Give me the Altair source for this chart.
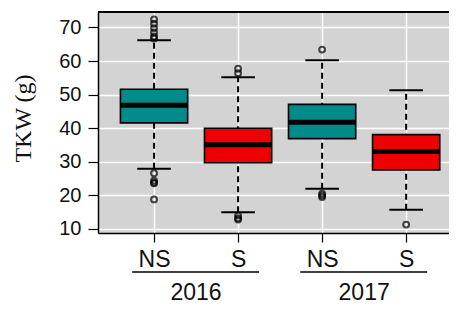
import altair as alt
import pandas as pd

# ---- data ----
groups = ["NS", "S", "NS", "S"]
years = ["2016", "2016", "2017", "2017"]
positions = [1, 2, 3, 4]
q1 = [41.6, 29.7, 36.9, 27.6]
median = [46.8, 35.1, 41.8, 33.1]
q3 = [51.6, 40.0, 47.1, 38.1]
whisker_low = [27.9, 15.0, 22.0, 15.7]
whisker_high = [66.2, 55.2, 60.2, 51.3]
outliers = [
    [72.4, 71.1, 69.8, 68.5, 67.3, 66.7, 26.6, 24.4, 23.8, 23.6, 18.8],
    [57.7, 56.4, 14.0, 13.2, 12.8],
    [63.4, 20.5, 20.0, 19.5],
    [11.3],
]
group_colors = {"NS": "#008b8b", "S": "#ee0000"}
year_labels = ["2016", "2017"]
year_pos = [1.5, 3.5]
underline_start = [0.74, 2.74]
underline_end = [2.25, 4.25]
y_ticks = [10, 20, 30, 40, 50, 60, 70]

boxes = pd.DataFrame({
    "group": groups, "year": years, "pos": positions,
    "q1": q1, "median": median, "q3": q3,
    "lo": whisker_low, "hi": whisker_high,
})
out_rows = []
for p, g, vals in zip(positions, groups, outliers):
    for v in vals:
        out_rows.append({"pos": p, "group": g, "value": v})
outs = pd.DataFrame(out_rows)
yrs = pd.DataFrame({"label": year_labels, "pos": year_pos,
                    "start": underline_start, "end": underline_end})

xscale = alt.Scale(domain=[0.333, 4.51], nice=False, zero=False)
yscale = alt.Scale(domain=[8.8, 74.6], nice=False, zero=False)
cscale = alt.Scale(domain=list(group_colors.keys()), range=list(group_colors.values()))

FONT = "Liberation Sans"

xaxis = alt.Axis(
    values=positions, title=None, grid=True, gridColor="white", gridWidth=1.5,
    labelExpr="datum.value == 1 || datum.value == 3 ? 'NS' : 'S'",
    labelFont=FONT, labelFontSize=23, labelColor="#111", labelPadding=6,
    tickSize=9, tickColor="black", tickWidth=1.2,
    domainColor="black", domainWidth=1.5,
)
yaxis = alt.Axis(
    values=y_ticks, title="TKW (g)", grid=True, gridColor="white", gridWidth=1.5,
    labelFont=FONT, labelFontSize=20, labelColor="#111", labelPadding=7,
    tickSize=10, tickColor="black", tickWidth=1.2,
    domainColor="black", domainWidth=1.5,
    titleFont="Liberation Serif", titleFontSize=24, titleFontWeight="normal",
    titleColor="#111", titleAngle=-90, titleAlign="center", titleBaseline="middle",
    titleX=-75, titleY=106,
)


def X(field):
    return alt.X(field, scale=xscale, axis=xaxis)


def Y(field):
    return alt.Y(field, scale=yscale, axis=yaxis)


base = alt.Chart(boxes)

whisk = base.mark_rule(color="black", strokeWidth=2, strokeDash=[6, 4]).encode(
    x=X("pos:Q"), y=Y("lo:Q"), y2="hi:Q",
)

caps_lo = base.mark_rule(color="black", strokeWidth=2).transform_calculate(
    a="datum.pos - 0.2", b="datum.pos + 0.2"
).encode(x=X("a:Q"), x2="b:Q", y=Y("lo:Q"))

caps_hi = base.mark_rule(color="black", strokeWidth=2).transform_calculate(
    a="datum.pos - 0.2", b="datum.pos + 0.2"
).encode(x=X("a:Q"), x2="b:Q", y=Y("hi:Q"))

box = base.mark_rect(stroke="black", strokeWidth=1.6).transform_calculate(
    a="datum.pos - 0.4", b="datum.pos + 0.4"
).encode(
    x=X("a:Q"), x2="b:Q", y=Y("q1:Q"), y2="q3:Q",
    fill=alt.Fill("group:N", scale=cscale, legend=None),
)

med = base.mark_rule(color="black", strokeWidth=5).transform_calculate(
    a="datum.pos - 0.4", b="datum.pos + 0.4"
).encode(x=X("a:Q"), x2="b:Q", y=Y("median:Q"))

pts = alt.Chart(outs).mark_point(shape="circle", filled=False, color="black",
                                 strokeWidth=2, size=34).encode(
    x=X("pos:Q"), y=Y("value:Q"),
)

top_border = alt.Chart(boxes).mark_rule(color="black", strokeWidth=1.5).encode(
    x=alt.value(0), x2=alt.value(351), y=alt.value(0)
)

underline = alt.Chart(yrs).mark_rule(color="black", strokeWidth=1.6).encode(
    x=X("start:Q"), x2="end:Q", y=alt.value(260)
)

year_text = alt.Chart(yrs).mark_text(font=FONT, fontSize=23, color="#111",
                                     baseline="middle", align="center").encode(
    x=X("pos:Q"), y=alt.value(281), text="label:N"
)

chart = alt.layer(
    whisk, caps_lo, caps_hi, box, med, pts, top_border, underline, year_text
).properties(
    width=351, height=221,
    autosize=alt.AutoSizeParams(type="none"),
    padding={"left": 90, "top": 4, "right": 0, "bottom": 72},
    background="white",
).configure_view(fill="#d3d3d3", stroke=None)

chart.save("out.html", embed_options={"renderer": "svg", "actions": False})
